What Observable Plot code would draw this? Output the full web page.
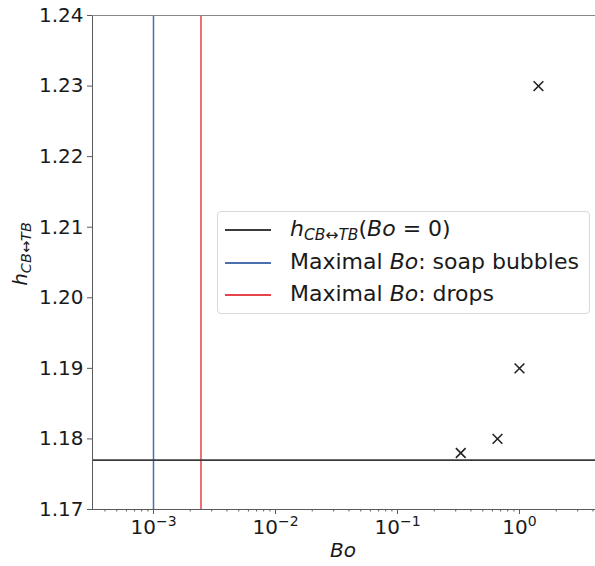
<!DOCTYPE html>
<html><head><meta charset="utf-8">
<script src="https://cdn.jsdelivr.net/npm/d3@7"></script>
<script src="https://cdn.jsdelivr.net/npm/@observablehq/plot@0.6"></script>
<style>
body{margin:0;background:#fff;}
#wrap{position:relative;width:595px;height:566px;font-family:"DejaVu Sans",sans-serif;}
.legend{position:absolute;left:217px;top:211px;width:373px;height:103px;border:1px solid #d9d9d9;border-radius:4px;background:rgba(255,255,255,0.85);box-sizing:border-box;}
.row{position:absolute;left:0;height:32px;width:100%;}
.sw{position:absolute;left:7px;width:46px;top:16px;height:2px;}
.lab{position:absolute;left:72px;top:0;line-height:32px;font-size:22px;color:#1a1a1a;white-space:nowrap;}
.lab i{font-style:italic;}
.lab sub{font-size:15.5px;font-style:italic;vertical-align:-4px;line-height:0;}
</style>
</head><body>
<div id="wrap"></div>
<script>
// ---- data ----
const boPoints = [0.33, 0.66, 1.0, 1.43];
const hPoints = [1.178, 1.18, 1.19, 1.23];
const hZero = 1.177;
const boMaxSoap = 1e-3;
const boMaxDrops = 2.45e-3;
const yTicks = [1.17, 1.18, 1.19, 1.20, 1.21, 1.22, 1.23, 1.24];
const xTicks = [1e-3, 1e-2, 1e-1, 1e0];
const xDomain = [Math.pow(10, -3.5), Math.pow(10, 0.623)];
const yDomain = [1.17, 1.24];

const blue = "#4a6eae";
const red = "#e4444b";
const spine = "#5a5a5a";

const points = boPoints.map((b, i) => ({bo: b, h: hPoints[i]}));
const minorTicks = [];
for (let k = -4; k <= 0; k++) for (let m = 2; m <= 9; m++) {
  const v = m * Math.pow(10, k);
  if (v > xDomain[0] && v < xDomain[1]) minorTicks.push(v);
}

const chart = Plot.plot({
  width: 595, height: 566,
  marginLeft: 92, marginRight: 0, marginTop: 15, marginBottom: 57,
  x: {type: "log", domain: xDomain, label: null},
  y: {domain: yDomain, label: null},
  style: {fontFamily: "DejaVu Sans", fontSize: "20px", background: "white", color: "#1a1a1a"},
  marks: [
    Plot.ruleX([boMaxSoap], {stroke: blue, strokeWidth: 1.5}),
    Plot.ruleX([boMaxDrops], {stroke: red, strokeWidth: 1.5}),
    Plot.ruleY([hZero], {stroke: "#3a3a3a", strokeWidth: 1.6}),
    Plot.dot(points, {x: "bo", y: "h", symbol: "times", r: 4.5, stroke: "#222", strokeWidth: 1.6}),
    Plot.ruleX([xDomain[0]], {stroke: spine, strokeWidth: 1}),
    Plot.ruleY([yDomain[0]], {stroke: spine, strokeWidth: 1}),
    Plot.ruleY([yDomain[1]], {stroke: "#888", strokeWidth: 1.2}),
    Plot.axisY({ticks: yTicks, tickSize: 5, tickPadding: 4, tickFormat: d => d.toFixed(2), label: null, stroke: spine}),
    Plot.axisX({ticks: xTicks, tickSize: 5, tickPadding: 5, tickFormat: d => "10^" + Math.round(Math.log10(d)), label: null, stroke: spine}),
    Plot.axisX({ticks: minorTicks, tickSize: 2.5, tickFormat: () => "", label: null, stroke: spine})
  ]
});

// superscripts for log tick labels
chart.querySelectorAll('g[aria-label="x-axis tick label"] text').forEach(t => {
  const s = t.textContent;
  if (!s.startsWith("10^")) return;
  const e = s.slice(3).replace("-", "\u2212");
  t.textContent = "";
  const a = document.createElementNS("http://www.w3.org/2000/svg", "tspan");
  a.textContent = "10";
  const b = document.createElementNS("http://www.w3.org/2000/svg", "tspan");
  b.textContent = e;
  b.setAttribute("font-size", "14");
  b.setAttribute("dy", "-8");
  t.appendChild(a); t.appendChild(b);
});

const svg = d3.select(chart);
// x label
svg.append("text").attr("x", 343).attr("y", 557).attr("text-anchor", "middle")
  .attr("font-size", 20).attr("font-style", "italic").attr("fill", "#1a1a1a").text("Bo");
// y label
const yl = svg.append("text").attr("transform", "translate(27,254) rotate(-90)")
  .attr("text-anchor", "middle").attr("font-size", 20).attr("fill", "#1a1a1a");
yl.append("tspan").attr("font-style", "italic").text("h");
yl.append("tspan").attr("font-style", "italic").attr("font-size", 14.5).attr("dy", 4).text("CB\u2194TB");

const wrap = document.getElementById("wrap");
wrap.appendChild(chart);

// legend
const legendItems = [
  {color: "#3a3a3a", html: '<i>h</i><sub>CB\u2194TB</sub>(<i>Bo</i> = 0)'},
  {color: blue, html: 'Maximal <i>Bo</i>: soap bubbles'},
  {color: red, html: 'Maximal <i>Bo</i>: drops'}
];
const leg = document.createElement("div");
leg.className = "legend";
legendItems.forEach((it, i) => {
  const r = document.createElement("div");
  r.className = "row";
  r.style.top = (1 + i * 32.5) + "px";
  r.innerHTML = `<div class="sw" style="background:${it.color}"></div><span class="lab">${it.html}</span>`;
  leg.appendChild(r);
});
wrap.appendChild(leg);
</script>
</body></html>
